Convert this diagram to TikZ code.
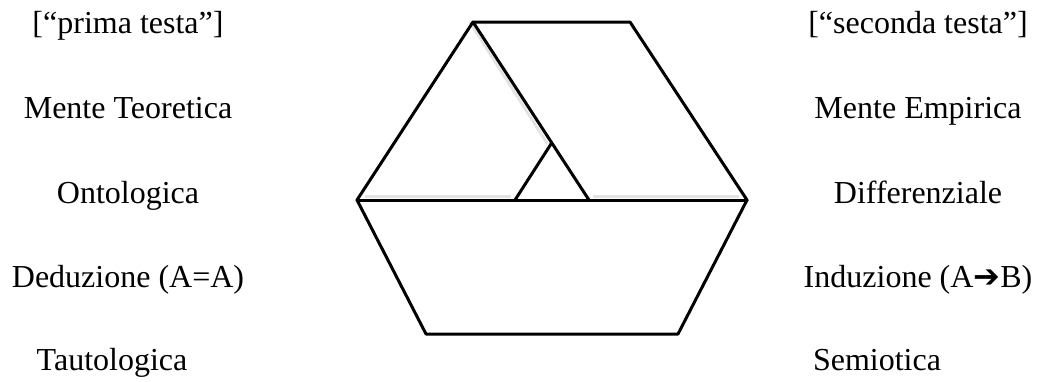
\documentclass[tikz,border=0pt]{standalone}
\usepackage{fontspec}
\setmainfont{Liberation Serif}
\newfontfamily\arrowfont{DejaVu Sans}
\begin{document}
\begin{tikzpicture}[x=0.5pt,y=-0.5pt,
  edge/.style={line width=1.5pt,line join=round,line cap=round},
  shade/.style={line width=1.4pt,draw=gray!22},
  lab/.style={anchor=base,inner sep=0pt,font=\fontsize{16}{19}\selectfont}]
\useasboundingbox (0,0) rectangle (1043,381);
% vertices
\coordinate (TL) at (473,22);
\coordinate (TR) at (630,22);
\coordinate (R) at (747,200);
\coordinate (BR) at (678,334);
\coordinate (BL) at (426,334);
\coordinate (L) at (357,200);
\coordinate (D) at (589,200);
\coordinate (A) at (551,144);
\coordinate (S) at (515,200);
% faint shadows
\draw[shade] ([xshift=-1.7pt]TL) -- ([xshift=-1.7pt]A);
\draw[shade] ([shift={(4pt,1.9pt)}]L) -- ([shift={(-2pt,1.9pt)}]S);
\draw[shade] ([shift={(2pt,1.9pt)}]D) -- ([shift={(-4pt,1.9pt)}]R);
% hexagon
\draw[edge] (TL) -- (TR) -- (R) -- (BR) -- (BL) -- (L) -- cycle;
\draw[edge] (L) -- (R);
\draw[edge] (TL) -- (D);
\draw[edge] (S) -- (A);
% left labels
\node[lab] (l1) at (128,33) {[“prima testa”]};
\node[lab] (l2) at (128,118) {Mente Teoretica};
\node[lab] (l3) at (128,203) {Ontologica};
\node[lab] (l4) at (128,287) {Deduzione (A=A)};
\node[lab] (l5) at (112,370) {Tautologica};
% right labels
\node[lab] (r1) at (918,33) {[“seconda testa”]};
\node[lab] (r2) at (918,118) {Mente Empirica};
\node[lab] (r3) at (918,203) {Differenziale};
\node[lab] (r4) at (918,287) {Induzione (A{\arrowfont ➔}B)};
\node[lab] (r5) at (877,370) {Semiotica};
\end{tikzpicture}
\end{document}
